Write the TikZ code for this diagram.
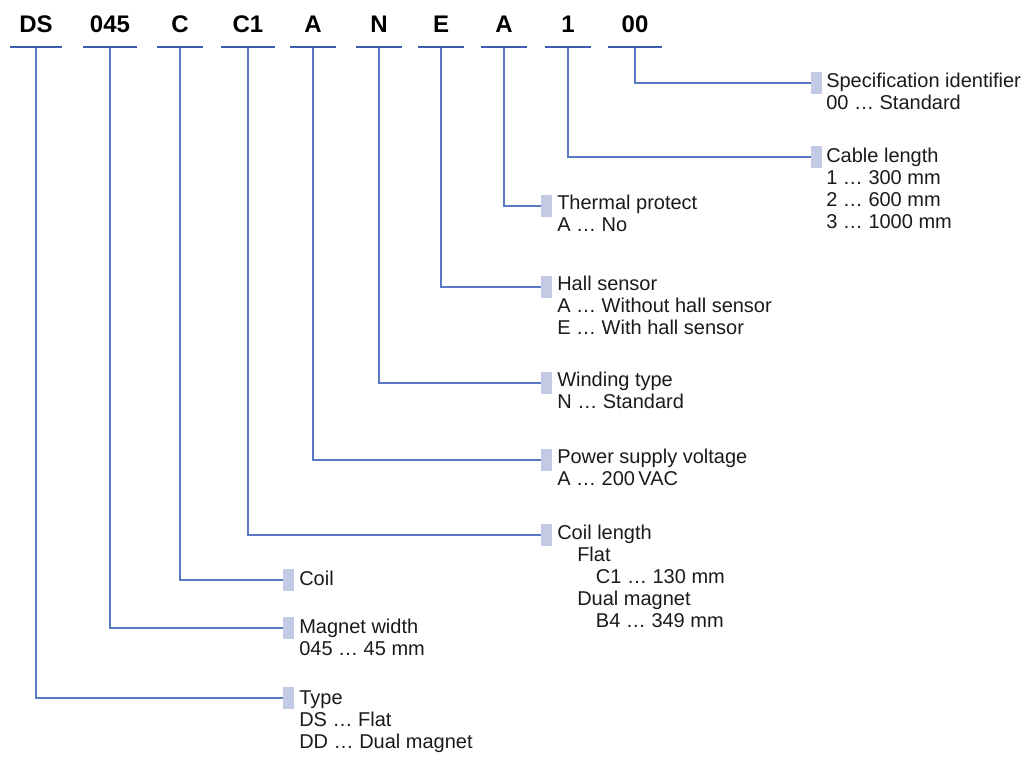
\documentclass[tikz,border=0pt]{standalone}
\usepackage{fontspec}
\setmainfont{Liberation Sans}
\definecolor{ulblue}{HTML}{3D5EAE}
\definecolor{lnblue}{HTML}{5A78C4}
\definecolor{boxblue}{HTML}{C2CBE3}
\definecolor{txt}{HTML}{1A1A1A}
\begin{document}
\begin{tikzpicture}[x=0.75pt,y=-0.75pt,
  code/.style={font={\fontsize{18}{20}\selectfont\bfseries},text=black,anchor=base,inner sep=0pt},
  uline/.style={fill=ulblue,inner sep=0pt,minimum height=1.6pt,anchor=center},
  conn/.style={draw=lnblue,line width=0.8pt},
  tag/.style={fill=boxblue,inner sep=0pt,minimum width=8.25pt,minimum height=16.5pt,anchor=west},
  desc/.style={font={\fontsize{15}{16.5}\selectfont},text=txt,align=left,anchor=base west,inner sep=0pt}]
\useasboundingbox (0,0) rectangle (1027,758);
% top codes
\node[code] (c1) at (36,32) {DS};
\node[code] (c2) at (110,32) {045};
\node[code] (c3) at (180,32) {C};
\node[code] (c4) at (248,32) {C1};
\node[code] (c5) at (313,32) {A};
\node[code] (c6) at (379,32) {N};
\node[code] (c7) at (441,32) {E};
\node[code] (c8) at (504,32) {A};
\node[code] (c9) at (568,32) {1};
\node[code] (c10) at (635,32) {00};
% underlines
\node[uline,minimum width=39pt] (u1) at (36,47) {};
\node[uline,minimum width=40.5pt] (u2) at (110,47) {};
\node[uline,minimum width=34pt] (u3) at (180,47) {};
\node[uline,minimum width=41pt] (u4) at (248,47) {};
\node[uline,minimum width=34pt] (u5) at (313,47) {};
\node[uline,minimum width=34pt] (u6) at (379,47) {};
\node[uline,minimum width=34pt] (u7) at (441,47) {};
\node[uline,minimum width=34pt] (u8) at (504,47) {};
\node[uline,minimum width=34pt] (u9) at (568,47) {};
\node[uline,minimum width=40.5pt] (u10) at (635,47) {};
% tags
\node[tag] (t10) at (811,83) {};
\node[tag] (t9) at (811,157) {};
\node[tag] (t8) at (541,206) {};
\node[tag] (t7) at (541,287) {};
\node[tag] (t6) at (541,383) {};
\node[tag] (t5) at (541,460) {};
\node[tag] (t4) at (541,535) {};
\node[tag] (t3) at (283,580) {};
\node[tag] (t2) at (283,628) {};
\node[tag] (t1) at (283,698) {};
% descriptions (anchored at the baseline of the last line)
\node[desc] (d10) at (826,109) {Specification identifier\\00 \dots\ Standard};
\node[desc] (d9) at (826,228) {Cable length\\1 \dots\ 300 mm\\2 \dots\ 600 mm\\3 \dots\ 1000 mm};
\node[desc] (d8) at (557,231) {Thermal protect\\A \dots\ No};
\node[desc] (d7) at (557,334) {Hall sensor\\A \dots\ Without hall sensor\\E \dots\ With hall sensor};
\node[desc] (d6) at (557,408) {Winding type\\N \dots\ Standard};
\node[desc] (d5) at (557,485) {Power supply voltage\\A \dots\ 200\,VAC};
\node[desc] (d4) at (557,627) {Coil length\\\hspace*{15pt}Flat\\\hspace*{29pt}C1 \dots\ 130 mm\\\hspace*{15pt}Dual magnet\\\hspace*{29pt}B4 \dots\ 349 mm};
\node[desc] (d3) at (299,585) {Coil};
\node[desc] (d2) at (299,655) {Magnet width\\045 \dots\ 45 mm};
\node[desc] (d1) at (299,748) {Type\\DS \dots\ Flat\\DD \dots\ Dual magnet};
% connectors
\foreach \i in {1,...,10} {\draw[conn] (u\i.south) |- (t\i.west);}
\end{tikzpicture}
\end{document}
